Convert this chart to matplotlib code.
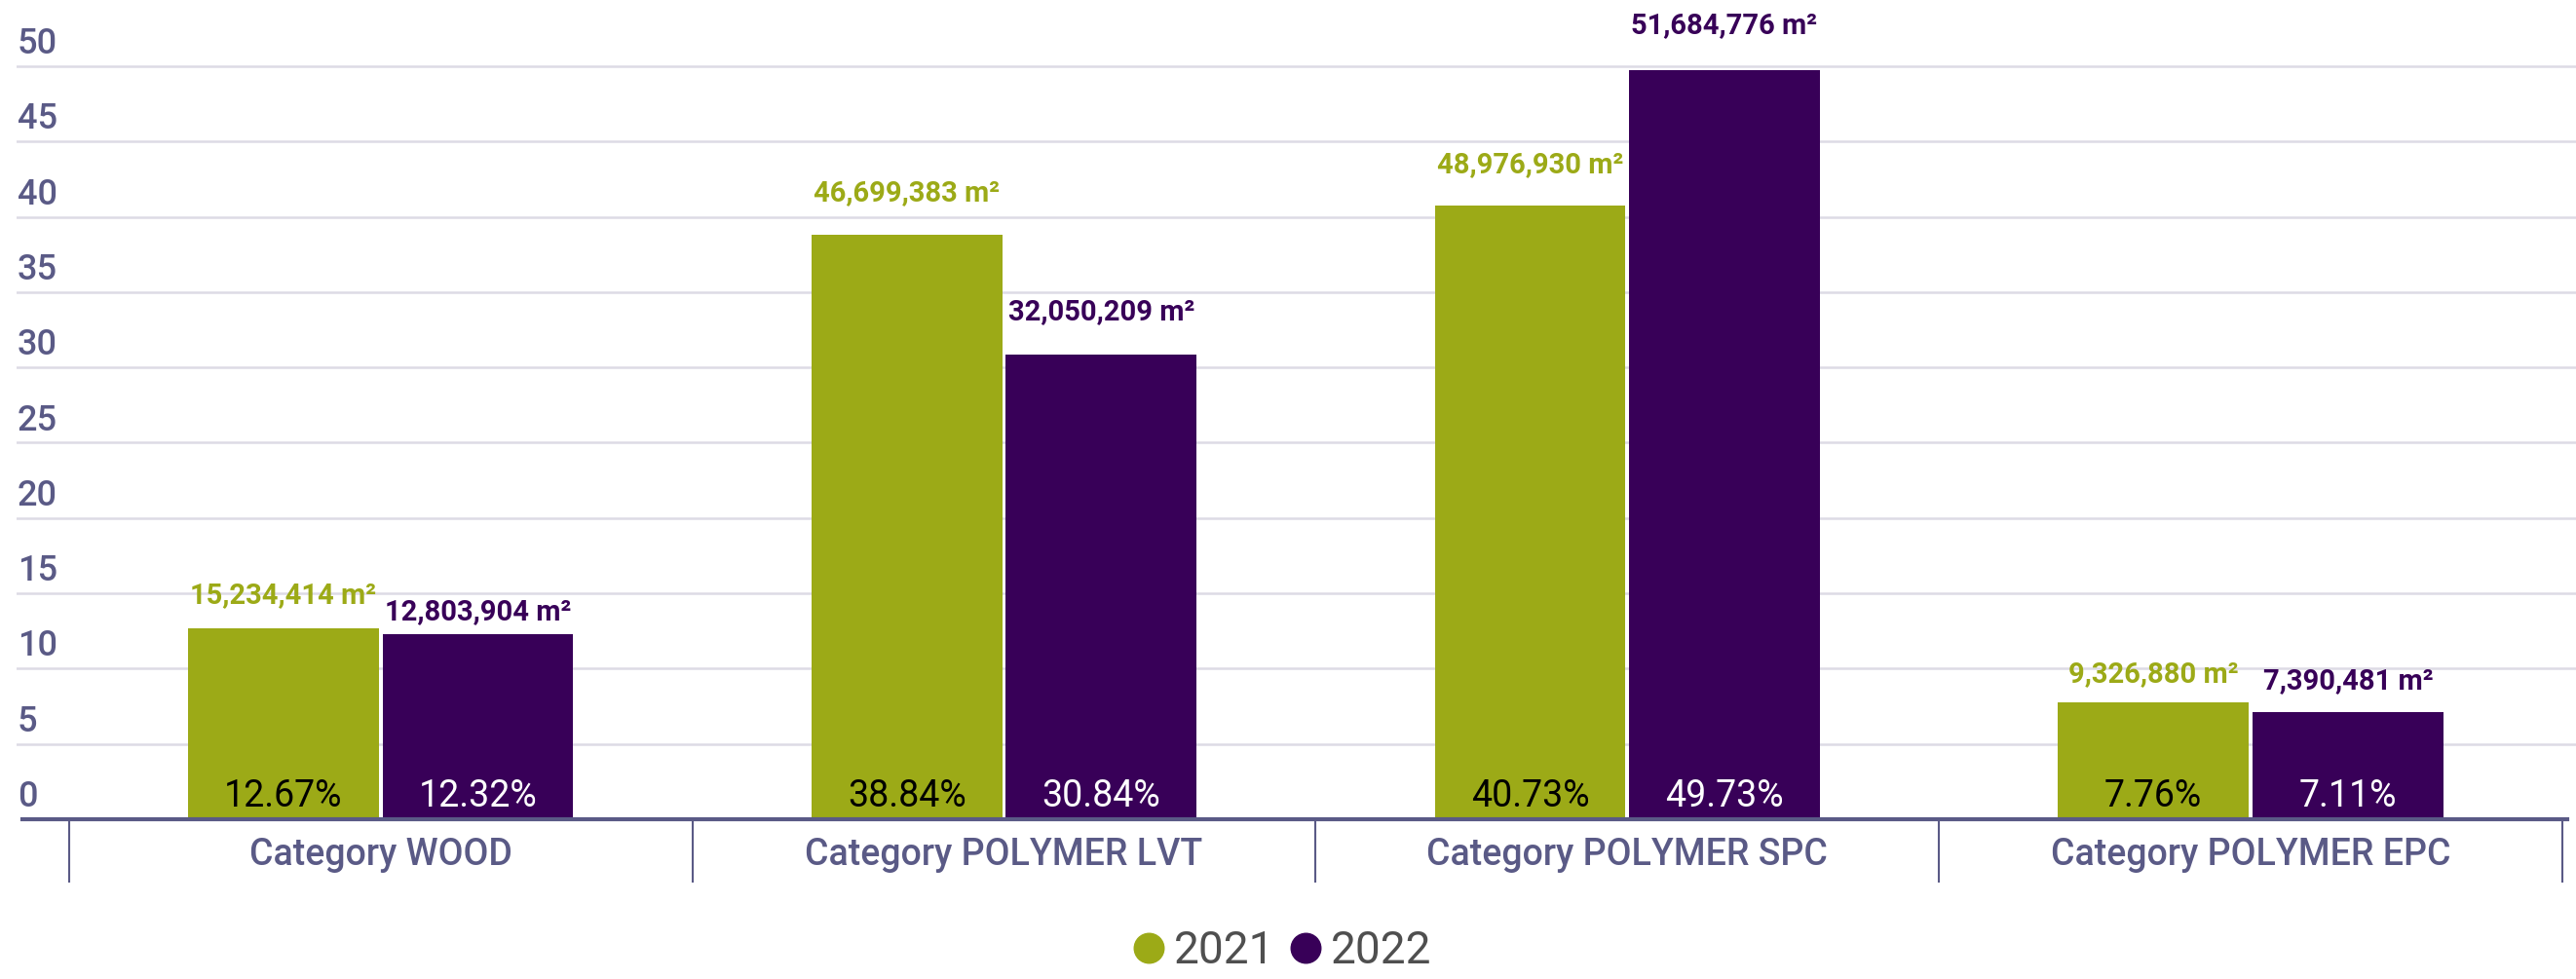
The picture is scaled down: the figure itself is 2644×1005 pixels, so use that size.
import matplotlib
matplotlib.use("Agg")
import matplotlib.pyplot as plt
import matplotlib.transforms as mtransforms
from matplotlib import font_manager as fm
from matplotlib.lines import Line2D
import numpy as np

# ---- data ----
categories = ["Category WOOD", "Category POLYMER LVT", "Category POLYMER SPC", "Category POLYMER EPC"]
years = ["2021", "2022"]
share_2021 = [12.67, 38.84, 40.73, 7.76]
share_2022 = [12.32, 30.84, 49.73, 7.11]
area_2021 = [15234414, 46699383, 48976930, 9326880]
area_2022 = [12803904, 32050209, 51684776, 7390481]
y_ticks = [0, 5, 10, 15, 20, 25, 30, 35, 40, 45, 50]

# ---- style ----
GREEN = "#9caa17"
PURPLE = "#380058"
AXIS_COL = "#5a5a86"
GRID_COL = "#dddbe5"
LEGEND_TXT = "#4f4f4f"

names = {f.name for f in fm.fontManager.ttflist}
NARROW = "Liberation Sans Narrow" if "Liberation Sans Narrow" in names else "Roboto"
ROBOTO = "Roboto" if "Roboto" in names else "DejaVu Sans"
narrow_ok = NARROW == "Liberation Sans Narrow"

W, H, DPI = 2644, 1005, 100
fig = plt.figure(figsize=(W / DPI, H / DPI), dpi=DPI)

px_per_unit = 15.46
axis_y = 841  # pixel row of the zero line (from top)
left_px = 17
ax = fig.add_axes([left_px / W, (H - axis_y) / H, 1 - left_px / W, axis_y / H])
ax.set_ylim(0, axis_y / px_per_unit)
ax.set_xlim(-0.584, 3.522)
for s in ax.spines.values():
    s.set_visible(False)

x = np.arange(len(categories))
bw = 0.306
off = 0.156
b1 = ax.bar(x - off, share_2021, bw, color=GREEN, zorder=3)
b2 = ax.bar(x + off, share_2022, bw, color=PURPLE, zorder=3)

# grid lines (no line at 0, the axis goes there)
ax.set_yticks(y_ticks)
ax.set_yticklabels([str(v) for v in y_ticks])
for v in y_ticks[1:]:
    ax.axhline(v, color=GRID_COL, lw=1.8, zorder=1)
ax.tick_params(axis="y", length=0, pad=0, labelsize=27 if narrow_ok else 26, labelcolor=AXIS_COL)
lift = mtransforms.ScaledTranslation(1 / DPI, 13 / DPI, fig.dpi_scale_trans)
for t in ax.yaxis.get_major_ticks():
    t.label1.set_horizontalalignment("left")
    t.label1.set_verticalalignment("baseline")
    t.label1.set_fontfamily(NARROW)
    t.label1.set_fontweight("medium")
    t.label1.set_transform(t.label1.get_transform() + lift)

# axis line and category separators
ax.axhline(0, xmin=6 / (W - left_px), xmax=(2635 - left_px) / (W - left_px),
           color=AXIS_COL, lw=3, zorder=4, clip_on=False)
ax.vlines(np.arange(len(categories) + 1) - 0.5, -65 / axis_y, 0, transform=ax.get_xaxis_transform(),
          color=AXIS_COL, lw=1.5, clip_on=False)

ax.set_xticks(x)
ax.set_xticklabels(categories, fontfamily=ROBOTO, fontweight="medium")
ax.tick_params(axis="x", length=0, pad=13, labelsize=27, labelcolor=AXIS_COL)

# percent labels inside bars
for bars, vals, col in [(b1, share_2021, "black"), (b2, share_2022, "white")]:
    for r, v in zip(bars, vals):
        ax.annotate(f"{v:.2f}%", (r.get_x() + r.get_width() / 2, 0), xytext=(0, 13 * 72 / DPI),
                    textcoords="offset points", ha="center", va="baseline",
                    fontsize=27, color=col, fontfamily=ROBOTO, zorder=5)

# area labels above bars
label_lift_px = [[34, 42, 42, 29], [22, 44, 46, 32]]
val_size = 24 if narrow_ok else 21
for k, (bars, vals, col) in enumerate([(b1, area_2021, GREEN), (b2, area_2022, PURPLE)]):
    for i, (r, v) in enumerate(zip(bars, vals)):
        ax.annotate(f"{v:,} m\u00b2", (r.get_x() + r.get_width() / 2, r.get_height()),
                    xytext=(0, label_lift_px[k][i] * 72 / DPI), textcoords="offset points",
                    ha="center", va="center", fontsize=val_size, fontweight="bold",
                    color=col, fontfamily=NARROW, zorder=5, annotation_clip=False)

# legend
handles = [Line2D([], [], ls="", marker="o", markersize=22, color=c) for c in (GREEN, PURPLE)]
leg = fig.legend(handles, years, loc="center", bbox_to_anchor=(0.498, 0.029), ncol=2,
                 frameon=False, handlelength=0.65, handletextpad=0.25, columnspacing=0.35,
                 prop={"family": NARROW, "size": 33}, borderpad=0, borderaxespad=0)
for t in leg.get_texts():
    t.set_color(LEGEND_TXT)

fig.savefig("out.png", dpi=DPI, facecolor="white")
